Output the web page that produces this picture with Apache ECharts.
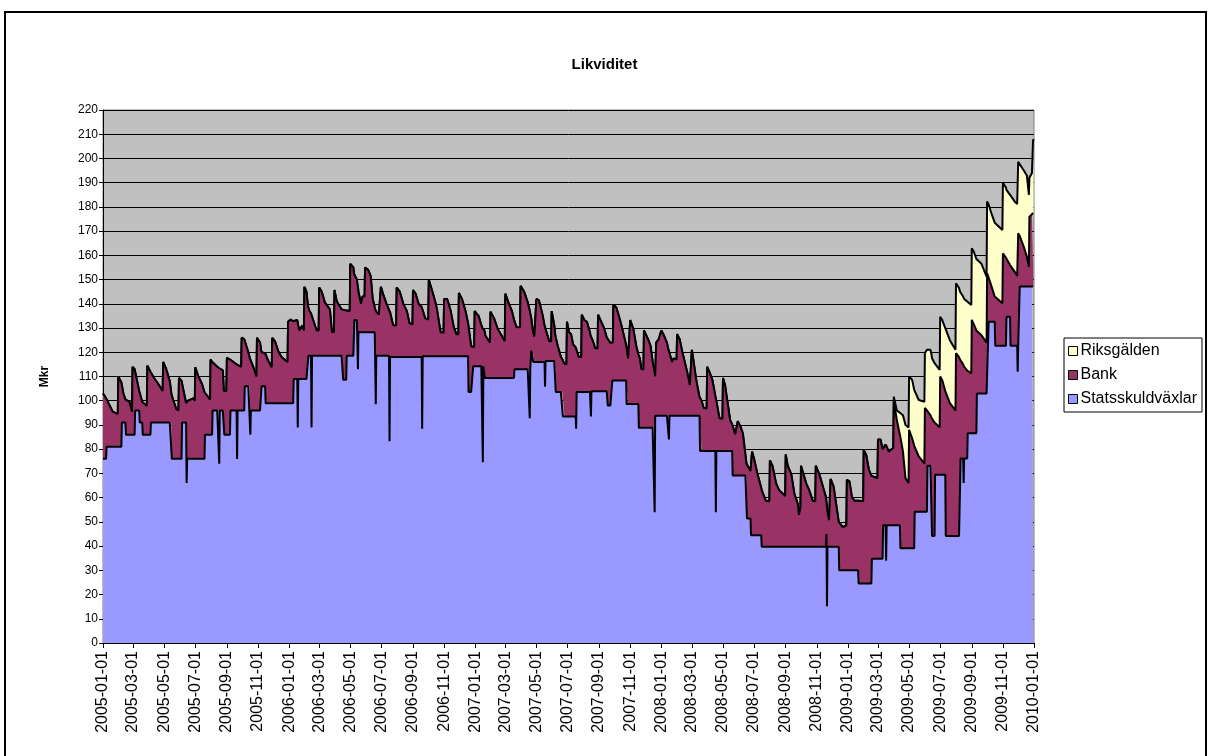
<!DOCTYPE html>
<html><head><meta charset="utf-8">
<script src="https://cdn.jsdelivr.net/npm/echarts@6/dist/echarts.min.js"></script>
<style>html,body{margin:0;padding:0;background:#fff}#c{width:1209px;height:756px}</style>
</head><body><div id="c"></div>
<script>
const dates = [
'2005-01-01','2005-01-07','2005-01-08','2005-01-14','2005-01-20','2005-01-30','2005-01-31',
'2005-02-06','2005-02-07','2005-02-10','2005-02-14','2005-02-15','2005-02-22','2005-02-27','2005-02-28',
'2005-03-04','2005-03-05','2005-03-09','2005-03-13','2005-03-14','2005-03-19','2005-03-20','2005-03-28','2005-03-29',
'2005-04-04','2005-04-05','2005-04-11','2005-04-19','2005-04-28','2005-04-29',
'2005-05-05','2005-05-12','2005-05-15','2005-05-16','2005-05-25','2005-05-29','2005-05-30',
'2005-06-04','2005-06-05','2005-06-09','2005-06-13','2005-06-14','2005-06-15','2005-06-17','2005-06-27','2005-06-30',
'2005-07-01','2005-07-07','2005-07-14','2005-07-19','2005-07-20','2005-07-30','2005-07-31',
'2005-08-03','2005-08-04','2005-08-13','2005-08-16','2005-08-17','2005-08-18','2005-08-24','2005-08-26','2005-08-27','2005-08-31',
'2005-09-01','2005-09-07','2005-09-08','2005-09-20','2005-09-21','2005-09-22','2005-09-29','2005-09-30',
'2005-10-05','2005-10-06','2005-10-13','2005-10-16','2005-10-17','2005-10-18','2005-10-23','2005-10-29','2005-10-30',
'2005-11-05','2005-11-07','2005-11-08','2005-11-15','2005-11-16','2005-11-21','2005-11-28','2005-11-29',
'2005-12-04','2005-12-11','2005-12-17','2005-12-29','2005-12-30',
'2006-01-04','2006-01-09','2006-01-10','2006-01-17','2006-01-18','2006-01-19','2006-01-21','2006-01-27','2006-01-30','2006-01-31',
'2006-02-04','2006-02-07','2006-02-08','2006-02-10','2006-02-13','2006-02-14','2006-02-15','2006-02-24','2006-02-28',
'2006-03-01','2006-03-06','2006-03-12','2006-03-22','2006-03-26','2006-03-30','2006-03-31',
'2006-04-04','2006-04-07','2006-04-14','2006-04-16','2006-04-17','2006-04-23','2006-04-24','2006-04-30',
'2006-05-01','2006-05-07','2006-05-08','2006-05-09','2006-05-14','2006-05-15','2006-05-16','2006-05-17','2006-05-22','2006-05-25','2006-05-29','2006-05-30',
'2006-06-05','2006-06-10','2006-06-14','2006-06-18','2006-06-19','2006-06-20','2006-06-21','2006-06-26','2006-06-29','2006-06-30',
'2006-07-04','2006-07-11','2006-07-16','2006-07-17','2006-07-18','2006-07-24','2006-07-30','2006-07-31',
'2006-08-06','2006-08-13','2006-08-20','2006-08-25','2006-08-31',
'2006-09-01','2006-09-06','2006-09-12','2006-09-18','2006-09-19','2006-09-20','2006-09-25',
'2006-10-01','2006-10-02','2006-10-07','2006-10-14','2006-10-18','2006-10-25','2006-10-31',
'2006-11-01','2006-11-07','2006-11-14','2006-11-20','2006-11-25','2006-11-29','2006-11-30',
'2006-12-06','2006-12-13','2006-12-18','2006-12-19','2006-12-24','2006-12-27','2006-12-28','2006-12-30','2006-12-31',
'2007-01-08','2007-01-13','2007-01-15','2007-01-16','2007-01-17','2007-01-19','2007-01-20','2007-01-21','2007-01-30','2007-01-31',
'2007-02-07','2007-02-14','2007-02-20','2007-02-28',
'2007-03-01','2007-03-07','2007-03-14','2007-03-18','2007-03-19','2007-03-23','2007-03-30','2007-03-31',
'2007-04-07','2007-04-14','2007-04-17','2007-04-18','2007-04-19','2007-04-20','2007-04-21','2007-04-24','2007-04-25','2007-04-27','2007-04-30',
'2007-05-01','2007-05-06','2007-05-13','2007-05-17','2007-05-18','2007-05-19','2007-05-26','2007-05-30','2007-05-31',
'2007-06-05','2007-06-07','2007-06-08','2007-06-12','2007-06-18','2007-06-21','2007-06-22','2007-06-25','2007-06-29','2007-06-30',
'2007-07-04','2007-07-08','2007-07-12','2007-07-17','2007-07-18','2007-07-19','2007-07-23','2007-07-28','2007-07-29',
'2007-08-03','2007-08-08','2007-08-14','2007-08-15','2007-08-16','2007-08-17','2007-08-21','2007-08-24','2007-08-29','2007-08-30',
'2007-09-05','2007-09-10','2007-09-16','2007-09-17','2007-09-18','2007-09-23','2007-09-26','2007-09-27','2007-09-28','2007-09-29',
'2007-10-05','2007-10-12','2007-10-18','2007-10-24','2007-10-25','2007-10-28','2007-10-31',
'2007-11-01','2007-11-07','2007-11-13','2007-11-17','2007-11-18','2007-11-20','2007-11-23','2007-11-27','2007-11-28',
'2007-12-06','2007-12-11','2007-12-15','2007-12-18','2007-12-19','2007-12-20','2007-12-21','2007-12-22','2007-12-27',
'2008-01-01','2008-01-06','2008-01-12','2008-01-15','2008-01-16','2008-01-17','2008-01-22','2008-01-25','2008-01-31',
'2008-02-01','2008-02-06','2008-02-11','2008-02-16','2008-02-21','2008-02-26','2008-02-29',
'2008-03-01','2008-03-06','2008-03-10','2008-03-16','2008-03-17','2008-03-20','2008-03-24','2008-03-30','2008-03-31',
'2008-04-05','2008-04-10','2008-04-16','2008-04-17','2008-04-18','2008-04-24','2008-04-30',
'2008-05-01','2008-05-05','2008-05-09','2008-05-15','2008-05-19','2008-05-20','2008-05-25','2008-05-30',
'2008-06-04','2008-06-09','2008-06-14','2008-06-16','2008-06-17','2008-06-24','2008-06-25','2008-06-26','2008-06-27',
'2008-07-01','2008-07-07','2008-07-15','2008-07-16','2008-07-24','2008-07-31',
'2008-08-01','2008-08-06','2008-08-13','2008-08-19','2008-08-31',
'2008-09-01','2008-09-05','2008-09-12','2008-09-18','2008-09-25','2008-09-27','2008-09-30',
'2008-10-01','2008-10-04','2008-10-11','2008-10-17','2008-10-24','2008-10-29','2008-10-30',
'2008-11-06','2008-11-13','2008-11-19','2008-11-20','2008-11-21','2008-11-22','2008-11-25','2008-11-27','2008-11-28',
'2008-12-04','2008-12-09','2008-12-14','2008-12-15','2008-12-22','2008-12-29','2008-12-30',
'2009-01-04','2009-01-09','2009-01-14','2009-01-21','2009-01-22','2009-01-31',
'2009-02-01','2009-02-06','2009-02-11','2009-02-16','2009-02-17','2009-02-28',
'2009-03-01','2009-03-06','2009-03-10','2009-03-11','2009-03-16','2009-03-17','2009-03-18','2009-03-22','2009-03-31',
'2009-04-01','2009-04-07','2009-04-13','2009-04-14','2009-04-19','2009-04-24','2009-04-30',
'2009-05-01','2009-05-07','2009-05-11','2009-05-12','2009-05-20','2009-05-31',
'2009-06-01','2009-06-05','2009-06-06','2009-06-12','2009-06-14','2009-06-15','2009-06-20','2009-06-21','2009-06-30',
'2009-07-01','2009-07-05','2009-07-11','2009-07-12','2009-07-20','2009-07-31',
'2009-08-01','2009-08-07','2009-08-09','2009-08-10','2009-08-15','2009-08-16','2009-08-17','2009-08-23','2009-08-24','2009-08-31',
'2009-09-01','2009-09-05','2009-09-10','2009-09-11','2009-09-20','2009-09-30',
'2009-10-01','2009-10-03','2009-10-04','2009-10-10','2009-10-16','2009-10-17','2009-10-31',
'2009-11-01','2009-11-03','2009-11-07','2009-11-08','2009-11-15','2009-11-16','2009-11-25','2009-11-29','2009-11-30',
'2009-12-01','2009-12-03','2009-12-04','2009-12-12','2009-12-18','2009-12-22','2009-12-23','2009-12-28','2009-12-30','2009-12-31'
];

const statsskuldvaxlar = [
76,76,81,81,81,81,81,
81,91,91,91,86,86,86,86,
86,96,96,96,91,91,86,86,86,
86,91,91,91,91,91,
91,91,91,76,76,76,76,
76,91,91,91,66,76,76,76,76,
76,76,76,76,86,86,86,
86,96,96,96,74,96,96,96,86,86,
86,86,96,96,76,96,96,96,
96,106,106,106,86,96,96,96,96,
96,96,106,106,99,99,99,99,
99,99,99,99,99,
99,99,109,109,89,109,109,109,109,109,
109,109,118.6,118.6,118.6,89,118.6,118.6,118.6,
118.6,118.6,118.6,118.6,118.6,118.6,118.6,
118.6,118.6,118.6,118.6,108.7,108.7,118.6,118.6,
118.6,118.6,118.6,133.3,133.3,133.3,113,128.3,128.3,128.3,128.3,128.3,
128.3,128.3,128.3,128.3,128.3,98.6,118.6,118.6,118.6,118.6,
118.6,118.6,118.6,83.3,118,118,118,118,
118,118,118,118,118,
118,118,118,118,88.4,118.4,118.4,
118.4,118.4,118.4,118.4,118.4,118.4,118.4,
118.4,118.4,118.4,118.4,118.4,118.4,118.4,
118.4,118.4,118.4,103.6,103.6,103.6,114.2,114.2,114.2,
114.2,114.2,114.2,74.6,114.2,114.2,109.4,109.4,109.4,109.4,
109.4,109.4,109.4,109.4,
109.4,109.4,109.4,109.4,113,113,113,113,
113,113,113,92.8,113,113,120.7,120.7,116,116,116,
116,116,116,116,105.8,116.4,116.4,116.4,116.4,
116.4,116.4,103.6,103.6,103.6,103.6,93.5,93.5,93.5,93.5,
93.5,93.5,93.5,93.5,88.4,103.6,103.6,103.6,103.6,
103.6,103.6,103.6,103.6,93.5,103.9,103.9,103.9,103.9,103.9,
103.9,103.9,103.9,103.9,98,98,98,108.4,108.4,108.4,
108.4,108.4,108.4,108.4,98.6,98.6,98.6,
98.6,98.6,98.6,98.6,88.8,88.8,88.8,88.8,88.8,
88.8,88.8,88.8,88.8,54,93.8,93.8,93.8,93.8,
93.8,93.8,93.8,93.8,84,93.8,93.8,93.8,93.8,
93.8,93.8,93.8,93.8,93.8,93.8,93.8,
93.8,93.8,93.8,93.8,79.3,79.3,79.3,79.3,79.3,
79.3,79.3,79.3,54,79.3,79.3,79.3,
79.3,79.3,79.3,79.3,79.3,69.1,69.1,69.1,
69.1,69.1,69.1,69.1,51.4,51.4,44.5,44.5,44.5,
44.5,44.5,44.5,39.7,39.7,39.7,
39.7,39.7,39.7,39.7,39.7,
39.7,39.7,39.7,39.7,39.7,39.7,39.7,
39.7,39.7,39.7,39.7,39.7,39.7,39.7,
39.7,39.7,39.7,45,15.2,39.7,39.7,39.7,39.7,
39.7,39.7,39.7,30,30,30,30,
30,30,30,30,24.6,24.6,
24.6,24.6,24.6,24.6,34.8,34.8,
34.8,34.8,34.8,48.6,48.6,34,48.6,48.6,48.6,
48.6,48.6,48.6,39.1,39.1,39.1,39.1,
39.1,39.1,39.1,54.2,54.2,54.2,
54.2,54.2,73.2,73.2,73.2,44.2,44.2,69.4,69.4,
69.4,69.4,69.4,44.2,44.2,44.2,
44.2,44.2,44.2,76.2,76.2,66,76.2,76.2,86.6,86.6,
86.6,86.6,86.6,103,103,103,
103,103,132.6,132.6,132.6,122.7,122.7,
122.7,122.7,122.7,134.7,134.7,122.7,122.7,122.7,112,
122.7,122.7,147.1,147.1,147.1,147.1,147.1,147.1,147.1,147.1
];

const bank = [
27,25,20,17,14.5,13.5,29,
26.5,16,12,9.5,14,13.5,9.5,28,
27,17,12,8,12.5,8.5,13,11.8,28.5,
26,20.6,18.4,16,13,25,
22,17,12,26,20.4,20,33.4,
32.2,17,12,8,32.5,22.5,24,25,24,
37.8,34,31,27.5,17,14.5,31,
30,19.5,18,17.5,39.5,17.3,16.5,8,17.6,18,
31.7,31,20.7,19,39,19,18,30,
29.4,19,14,11.5,31,20.7,17.8,14,30,
28,25,14,13.5,20.3,17.5,14.8,27,
25.6,21.3,19,17,33.6,
34.5,33.8,23.6,24.3,43,22,20,22,20,38,
36,30,19.9,18.4,17.4,46.8,16.9,10.4,10.4,
28.1,26.4,22,19.1,9.7,9.9,27.1,
22.8,21.4,19.1,18.9,28.7,28.5,18.6,18.4,
37.9,36.4,34.4,18.7,16.7,14.7,34,16.7,11.7,14.7,14.7,26.7,
25.7,23.1,13.7,10.1,9.7,38.4,17.9,16.9,16.4,28.4,
25.6,21.4,18.9,53.7,18.5,13.2,13,28.7,
27,22,19,14,13.5,
27.7,26.2,22,20.6,50.1,19.6,15.6,
15.1,31.6,28,23,19.3,9.9,9.6,
23.6,23.6,18.6,12,9.1,8.9,26.1,
23.6,18.6,13.6,27.6,18.9,18.8,8.1,8,22.8,
20.6,17,15.8,54.9,15.1,14.8,18.6,17.4,14.5,27.3,
24.6,20.3,18.1,15.2,
34.8,31.2,27.6,24.1,20,17.4,17.3,34.4,
32,27.6,25,44.7,24.2,24,13.3,8.3,12,10.5,10.3,
26,25.4,19.5,15,24.9,14,8.2,8,20.6,
14.8,10.6,22.4,18.9,14.5,13.4,23.3,21.7,21.5,39.1,
34.8,34,29.7,28.5,33.4,18.1,14.5,14.4,31.9,
29.7,29,24.7,23.4,33,22.1,20.1,17.8,17.6,31.6,
28.7,26.5,22.2,21.9,27.5,25.9,26,15.6,15.6,31.2,
30,24.9,19.9,14.6,23.9,18.8,18.6,
34.7,31.1,23.9,20.4,29.7,28.6,24.2,24.2,40.2,
36.6,33.7,27.2,24.2,57.5,16.3,16.2,30.2,31.6,
35.2,33.2,30.2,27.2,36.3,26,22.2,23.7,23.2,
33.7,31.6,26.5,22.2,17.8,12.7,12.5,
27.2,20,14.2,7.7,21.7,20.7,17.7,17.5,34.7,
32.3,29.4,22.7,47,21.2,13.5,13.2,
30.1,27.2,21.4,12.7,10.9,20.9,17.1,22.5,
20.3,17.4,8.4,4.9,21.8,19.6,26.5,26.5,34.5,
31.5,25.8,19.5,23.3,19,18.8,
35.7,33.5,26.3,23.4,21,
38.1,33.5,29.9,21.9,17.5,13.2,16.3,
33.5,32.8,26.3,23.4,19,18.8,33.5,
29.9,24.8,20.4,13,40.8,14.3,11,10.8,28,
24.8,17.5,10.3,19.3,17.8,18.5,37.4,
36.7,30.1,28.7,28.7,34.1,33.9,
55.1,52.9,47,44.4,34,33.2,
49.2,49.2,45.2,31.1,33.3,47.5,32.4,30.4,31.9,
51.4,43.4,37.4,45.9,39.9,28.9,26.9,
48.9,45.4,42.4,26.8,22.8,19.8,
42.8,41.8,22.8,20.8,19.8,48.3,46.8,21.1,19.6,
40.6,39.1,34.6,59.3,54.8,51.8,
75.4,73.8,72.8,40.3,38.8,48.5,37.8,36.3,25.4,24.7,
46.8,44.9,42.4,25.5,24,21,
49.6,48.5,18.4,14.4,10.4,19.8,17.5,
38.1,37.8,36.3,23.8,21.3,32.8,30.3,28.8,39.2,
46.4,45.8,20.9,16.4,12.4,8.2,28.9,29.9,30.4,30.4
];

const riksgalden = [
0,0,0,0,0,0,0,
0,0,0,0,0,0,0,0,
0,0,0,0,0,0,0,0,0,
0,0,0,0,0,0,
0,0,0,0,0,0,0,
0,0,0,0,0,0,0,0,0,
0,0,0,0,0,0,0,
0,0,0,0,0,0,0,0,0,0,
0,0,0,0,0,0,0,0,
0,0,0,0,0,0,0,0,0,
0,0,0,0,0,0,0,0,
0,0,0,0,0,
0,0,0,0,0,0,0,0,0,0,
0,0,0,0,0,0,0,0,0,
0,0,0,0,0,0,0,
0,0,0,0,0,0,0,0,
0,0,0,0,0,0,0,0,0,0,0,0,
0,0,0,0,0,0,0,0,0,0,
0,0,0,0,0,0,0,0,
0,0,0,0,0,
0,0,0,0,0,0,0,
0,0,0,0,0,0,0,
0,0,0,0,0,0,0,
0,0,0,0,0,0,0,0,0,
0,0,0,0,0,0,0,0,0,0,
0,0,0,0,
0,0,0,0,0,0,0,0,
0,0,0,0,0,0,0,0,0,0,0,
0,0,0,0,0,0,0,0,0,
0,0,0,0,0,0,0,0,0,0,
0,0,0,0,0,0,0,0,0,
0,0,0,0,0,0,0,0,0,0,
0,0,0,0,0,0,0,0,0,0,
0,0,0,0,0,0,0,
0,0,0,0,0,0,0,0,0,
0,0,0,0,0,0,0,0,0,
0,0,0,0,0,0,0,0,0,
0,0,0,0,0,0,0,
0,0,0,0,0,0,0,0,0,
0,0,0,0,0,0,0,
0,0,0,0,0,0,0,0,
0,0,0,0,0,0,0,0,0,
0,0,0,0,0,0,
0,0,0,0,0,
0,0,0,0,0,0,0,
0,0,0,0,0,0,0,
0,0,0,0,0,0,0,0,0,
0,0,0,0,0,0,0,
0,0,0,0,0,0,
0,0,0,0,0,0,
0,0,0,0,0,0,0,0,0,
1.7,4,9,9.8,15,22,23,
22,24.1,23,23,23.3,25.6,
22.6,25,25.5,27,26,25,24.5,24.5,23.7,
24.7,24.8,26,26,26,25,
28.9,28.5,28,28,28,28,28,28.5,28.5,28.2,
29.5,30,29.5,29.5,29.5,27.2,
29.6,30,30,30,30.5,30.5,30.3,
29.2,30.1,29,28.5,29,29,29,29.7,29.8,
29.5,29.5,29.9,31.5,33.5,29.7,16,17,29.5,30.5
];

const tickLabels = [
'2005-01-01','2005-03-01','2005-05-01','2005-07-01','2005-09-01','2005-11-01',
'2006-01-01','2006-03-01','2006-05-01','2006-07-01','2006-09-01','2006-11-01',
'2007-01-01','2007-03-01','2007-05-01','2007-07-01','2007-09-01','2007-11-01',
'2008-01-01','2008-03-01','2008-05-01','2008-07-01','2008-09-01','2008-11-01',
'2009-01-01','2009-03-01','2009-05-01','2009-07-01','2009-09-01','2009-11-01',
'2010-01-01'
];
const seriesNames = ['Statsskuldväxlar', 'Bank', 'Riksgälden'];
const seriesColors = ['#9999FF', '#993366', '#FFFFCC'];

if (dates.length !== statsskuldvaxlar.length || dates.length !== bank.length || dates.length !== riksgalden.length) {
  throw new Error('length mismatch ' + dates.length + ' ' + statsskuldvaxlar.length + ' ' + bank.length + ' ' + riksgalden.length);
}

const parseT = s => Date.UTC(+s.slice(0, 4), +s.slice(5, 7) - 1, +s.slice(8, 10));
const tickVals = tickLabels.map(parseT);
const labelByVal = {};
tickLabels.forEach((t, i) => { labelByVal[tickVals[i]] = t; });
const FONT = '"Liberation Sans", Arial, sans-serif';
const xMin = tickVals[0], xMax = tickVals[tickVals.length - 1];

const xs = dates.map(parseT);
const valuesList = [statsskuldvaxlar, bank, riksgalden];
const series = seriesNames.map((name, k) => ({
  name, type: 'line', stack: 'total', symbol: 'none', silent: true,
  xAxisIndex: 0,
  data: xs.map((x, i) => [x, valuesList[k][i]]),
  lineStyle: { color: '#000', width: 2 },
  areaStyle: { color: seriesColors[k], opacity: 1 },
  itemStyle: { color: seriesColors[k] },
  emphasis: { disabled: true },
  z: 5 - k,
  animation: false
}));

const chart = echarts.init(document.getElementById('c'), null, { renderer: 'canvas' });
chart.setOption({
  backgroundColor: '#fff',
  animation: false,
  title: { text: 'Likviditet', left: 'center', top: 52, textStyle: { fontFamily: FONT, fontSize: 15, fontWeight: 'bold', color: '#000' } },
  grid: { left: 103, right: 175, top: 110, bottom: 113, show: true, backgroundColor: '#C0C0C0', borderColor: '#808080', borderWidth: 1 },
  legend: {
    orient: 'vertical', left: 1064, top: 338, itemWidth: 9, itemHeight: 9, itemGap: 8,
    padding: [5, 5, 5, 4], backgroundColor: '#fff', borderColor: '#000', borderWidth: 1, borderRadius: 0,
    textStyle: { fontFamily: FONT, fontSize: 16, color: '#000', padding: [0, 0, 0, -2] },
    data: [2, 1, 0].map(k => ({ name: seriesNames[k], icon: 'rect', itemStyle: { color: seriesColors[k], borderColor: '#000', borderWidth: 1 } }))
  },
  xAxis: [
    { // time axis that carries the series (ECharts stacks time-axis series by index)
      type: 'time', min: xMin, max: xMax, position: 'bottom',
      axisLine: { show: false }, axisTick: { show: false }, axisLabel: { show: false }, splitLine: { show: false }
    },
    { // same scale, used for the two-monthly ticks and labels
      type: 'value', min: xMin, max: xMax, position: 'bottom',
      axisLine: { show: true, lineStyle: { color: '#000', width: 1 } },
      axisTick: { show: true, customValues: tickVals, length: 5, lineStyle: { color: '#000' } },
      axisLabel: { customValues: tickVals, rotate: 90, formatter: v => labelByVal[v] || '', fontFamily: FONT, fontSize: 16, color: '#000', margin: 8 },
      splitLine: { show: false }
    }
  ],
  yAxis: {
    type: 'value', min: 0, max: 220, interval: 10,
    name: 'Mkr', nameLocation: 'middle', nameRotate: 90, nameGap: 52,
    nameTextStyle: { fontFamily: FONT, fontSize: 12, fontWeight: 'bold', color: '#000' },
    axisLine: { show: true, lineStyle: { color: '#000', width: 1 } },
    axisTick: { show: true, length: 4, lineStyle: { color: '#000' } },
    axisLabel: { fontFamily: FONT, fontSize: 12, color: '#000', margin: 5 },
    splitLine: { show: true, lineStyle: { color: '#000', width: 1 } }
  },
  graphic: [{ type: 'rect', silent: true, z: 100, shape: { x: 5, y: 12, width: 1201, height: 800 }, style: { fill: 'none', stroke: '#000', lineWidth: 2 } }],
  series
});
</script></body></html>
